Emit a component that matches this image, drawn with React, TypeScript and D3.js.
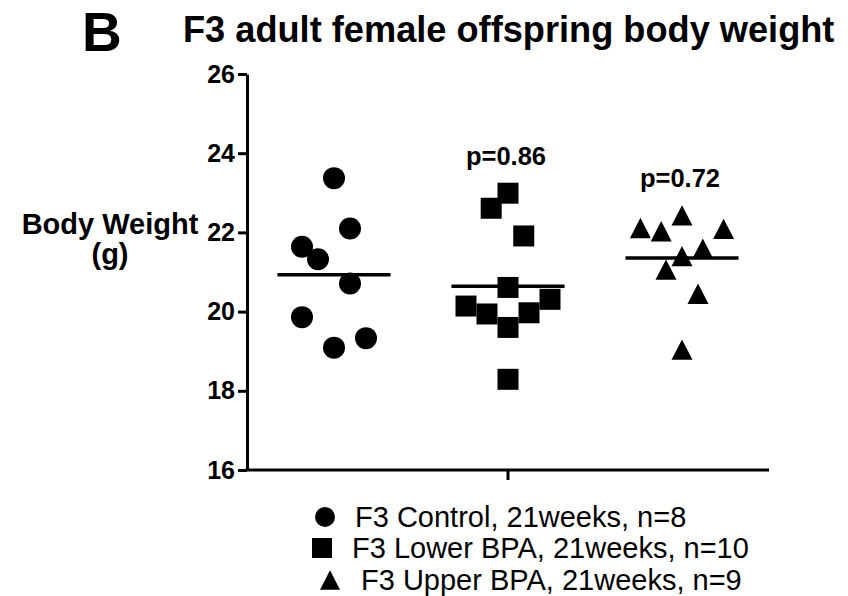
import { useEffect, useRef } from 'react';
import * as d3 from 'd3';

const groups = ['F3 Control', 'F3 Lower BPA', 'F3 Upper BPA'];
const legendLabels = [
  'F3 Control, 21weeks, n=8',
  'F3 Lower BPA, 21weeks, n=10',
  'F3 Upper BPA, 21weeks, n=9',
];
const pValues = ['', 'p=0.86', 'p=0.72'];

const controlWeights = [23.37, 22.1, 21.64, 21.32, 20.71, 19.86, 19.33, 19.09];
const controlSlots = [0, 1, -2, -1, 1, -2, 2, 0];

const lowerWeights = [22.99, 22.61, 21.91, 20.61, 20.31, 20.14, 19.94, 19.97, 19.6, 18.29];
const lowerSlots = [0, -0.8, 0.75, 0, 2, -2, -1, 1, 0, 0];

const upperWeights = [22.43, 22.11, 22.03, 22.09, 21.59, 21.4, 21.06, 20.45, 19.04];
const upperSlots = [0, -2, -1, 2, 1, 0, -0.77, 0.77, 0];

const yTicks = [16, 18, 20, 22, 24, 26];

const FONT = '"Liberation Sans", Arial, Helvetica, sans-serif';

export default function App() {
  const svgRef = useRef<SVGSVGElement>(null);
  const width = 848;
  const height = 596;

  useEffect(() => {
    if (!svgRef.current) return;
    const svg = d3.select(svgRef.current);
    svg.selectAll('*').remove();

    const margin = { top: 74, right: 79, bottom: 126, left: 247 };

    const x = d3
      .scaleBand<string>()
      .domain(groups)
      .range([margin.left, width - margin.right]);

    const y = d3
      .scaleLinear()
      .domain([16, 26])
      .range([height - margin.bottom, margin.top]);

    const series = [
      { weights: controlWeights, slots: controlSlots, shape: 'circle', step: 16 },
      { weights: lowerWeights, slots: lowerSlots, shape: 'square', step: 21 },
      { weights: upperWeights, slots: upperSlots, shape: 'triangle', step: 20.8 },
    ];

    const symbolPath = (shape: string, s: number) => {
      if (shape === 'circle') {
        const r = s / 2;
        return `M${r},0A${r},${r},0,1,1,${-r},0A${r},${r},0,1,1,${r},0Z`;
      }
      if (shape === 'square') {
        const h = s / 2;
        return `M${-h},${-h}H${h}V${h}H${-h}Z`;
      }
      const w = s / 2;
      const hh = (s * 0.97) / 2;
      return `M0,${-hh}L${w},${hh}L${-w},${hh}Z`;
    };

    // y axis
    const yAxis = svg
      .append('g')
      .attr('transform', `translate(${margin.left},0)`)
      .call(d3.axisLeft(y).tickValues(yTicks).tickSize(9).tickSizeOuter(0).tickPadding(3));
    yAxis.select('.domain').attr('stroke', '#000').attr('stroke-width', 3);
    yAxis.selectAll('.tick line').attr('stroke', '#000').attr('stroke-width', 3);
    yAxis
      .selectAll('.tick text')
      .attr('fill', '#000')
      .attr('font-family', FONT)
      .attr('font-weight', 'bold')
      .attr('font-size', 25);

    // x axis
    const xAxis = svg
      .append('g')
      .attr('transform', `translate(0,${height - margin.bottom})`)
      .call(
        d3
          .axisBottom(x)
          .tickValues([groups[1]])
          .tickFormat(() => '')
          .tickSize(10)
          .tickSizeOuter(0)
      );
    xAxis.select('.domain').attr('stroke', '#000').attr('stroke-width', 3).attr('d', `M${margin.left - 1.5},0H${width - margin.right}`);
    xAxis.selectAll('.tick line').attr('stroke', '#000').attr('stroke-width', 3);

    // points and means
    series.forEach((s, i) => {
      const cx = (x(groups[i]) as number) + x.bandwidth() / 2;
      const g = svg.append('g');
      g.selectAll('path.pt')
        .data(s.weights)
        .join('path')
        .attr('class', 'pt')
        .attr('transform', (d, j) => `translate(${cx + s.slots[j] * s.step},${y(d)})`)
        .attr('d', symbolPath(s.shape, s.shape === 'circle' ? 22 : 21))
        .attr('fill', '#000');

      const mean = d3.mean(s.weights) as number;
      const half = x.bandwidth() * 0.325;
      g.append('line')
        .attr('x1', cx - half)
        .attr('x2', cx + half)
        .attr('y1', y(mean))
        .attr('y2', y(mean))
        .attr('stroke', '#000')
        .attr('stroke-width', 3.5);

      if (pValues[i]) {
        const top = d3.max(s.weights) as number;
        g.append('text')
          .attr('x', cx - 2)
          .attr('y', y(top) - 28)
          .attr('text-anchor', 'middle')
          .attr('font-family', FONT)
          .attr('font-weight', 'bold')
          .attr('font-size', 25.5)
          .text(pValues[i]);
      }
    });

    // title
    svg
      .append('text')
      .attr('x', 82)
      .attr('y', 51)
      .attr('font-family', FONT)
      .attr('font-weight', 'bold')
      .attr('font-size', 55)
      .text('B');
    svg
      .append('text')
      .attr('x', 183)
      .attr('y', 42)
      .attr('font-family', FONT)
      .attr('font-weight', 'bold')
      .attr('font-size', 36.2)
      .text('F3 adult female offspring body weight');

    // y label
    const yl = svg
      .append('text')
      .attr('text-anchor', 'middle')
      .attr('font-family', FONT)
      .attr('font-weight', 'bold')
      .attr('font-size', 29);
    yl.append('tspan').attr('x', 110).attr('y', 234).text('Body Weight');
    yl.append('tspan').attr('x', 110).attr('y', 264).text('(g)');

    // legend
    const legendSymX = [325, 322, 330];
    const legendTextX = [355, 352, 361];
    const legendY = [517, 548, 580];
    const shapes = ['circle', 'square', 'triangle'];
    legendLabels.forEach((label, i) => {
      svg
        .append('path')
        .attr('transform', `translate(${legendSymX[i]},${legendY[i]})`)
        .attr('d', symbolPath(shapes[i], 20))
        .attr('fill', '#000');
      svg
        .append('text')
        .attr('x', legendTextX[i])
        .attr('y', legendY[i] + 10)
        .attr('font-family', FONT)
        .attr('font-size', 29)
        .text(label);
    });
  }, []);

  return (
    <svg
      ref={svgRef}
      width={width}
      height={height}
      style={{ position: 'absolute', left: 0, top: 0, background: '#fff' }}
    />
  );
}
